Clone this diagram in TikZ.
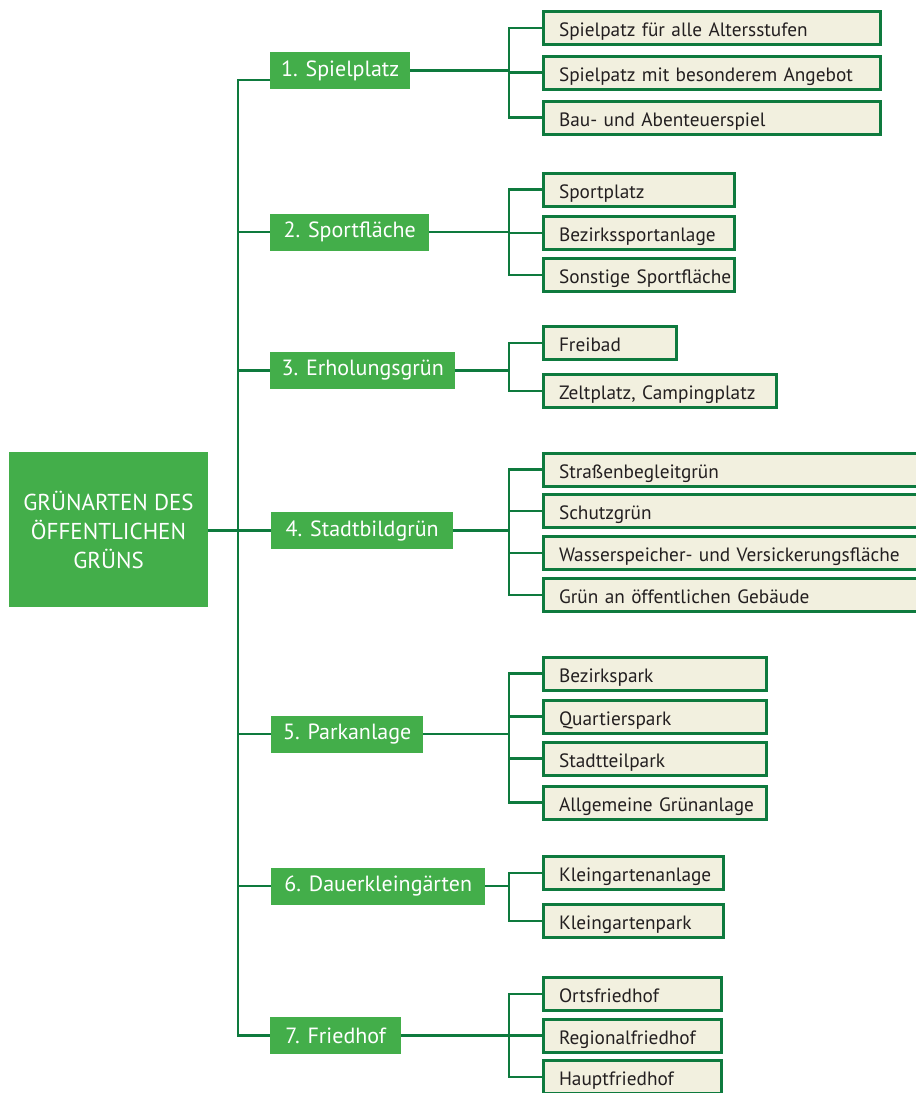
\documentclass[tikz,border=0pt]{standalone}
\usepackage{fontspec}
\setmainfont{PT Sans}
\usetikzlibrary{calc}
\definecolor{boxgreen}{HTML}{43AE4A}
\definecolor{linegreen}{HTML}{0E7A3E}
\definecolor{leafcream}{HTML}{F2F0DF}
\definecolor{leaftext}{HTML}{231F20}
\tikzset{
  link/.style={line width=2.6pt, color=linegreen},
  cat/.style={fill=boxgreen, text=white, anchor=west, inner sep=0pt, minimum height=37pt, minimum width=#1, font=\fontsize{22}{26}\selectfont},
  leaf/.style={draw=linegreen, line width=3pt, fill=leafcream, text=leaftext, anchor=west, inner xsep=0pt, inner ysep=0pt, minimum height=33pt, text width=#1, text height=17.5pt, text depth=0.5pt, align=left, font=\fontsize{19.3}{23}\selectfont, execute at begin node={\hspace*{16pt}\hbox\bgroup}, execute at end node={\egroup}},
}

\begin{document}
\begin{tikzpicture}[x=1pt,y=-1pt,line join=miter]
\useasboundingbox (0,0) rectangle (916,1093);

% root
\node[fill=boxgreen, text=white, minimum width=199pt, minimum height=155pt, inner sep=0pt, align=center, font=\fontsize{23}{29}\selectfont] (root) at (108.5,529.5) {GRÜNARTEN DES\\ÖFFENTLICHEN\\GRÜNS};

% categories
\node[cat=140pt] (s1) at (270,70.5) {1. Spielplatz};
\node[cat=159pt] (s2) at (270,232) {2. Sportfläche};
\node[cat=185pt] (s3) at (270,370.5) {3. Erholungsgrün};
\node[cat=182pt] (s4) at (271,530.5) {4. Stadtbildgrün};
\node[cat=152pt] (s5) at (271,734) {5. Parkanlage};
\node[cat=214pt] (s6) at (271,886) {6. Dauerkleingärten};
\node[cat=131pt] (s7) at (270,1035.5) {7. Friedhof};

% leaves
\node[leaf=337pt] (l11) at (541.5,28) {Spielpatz für alle Altersstufen};
\node[leaf=337pt] (l12) at (541.5,72.5) {Spielpatz mit besonderem Angebot};
\node[leaf=337pt] (l13) at (541.5,117.5) {Bau- und Abenteuerspiel};

\node[leaf=191pt] (l21) at (541.5,189.5) {Sportplatz};
\node[leaf=191pt] (l22) at (541.5,233) {Bezirkssportanlage};
\node[leaf=191pt] (l23) at (541.5,275) {Sonstige Sportfläche};

\node[leaf=133pt] (l31) at (541.5,343) {Freibad};
\node[leaf=233pt] (l32) at (541.5,391) {Zeltplatz, Campingplatz};

\node[leaf=382pt] (l41) at (541.5,469.5) {Straßenbegleitgrün};
\node[leaf=382pt] (l42) at (541.5,511) {Schutzgrün};
\node[leaf=382pt] (l43) at (541.5,553) {Wasserspeicher- und Versickerungsfläche};
\node[leaf=382pt] (l44) at (541.5,595) {Grün an öffentlichen Gebäude};

\node[leaf=223pt] (l51) at (541.5,673.5) {Bezirkspark};
\node[leaf=223pt] (l52) at (541.5,716.5) {Quartierspark};
\node[leaf=223pt] (l53) at (541.5,758.5) {Stadtteilpark};
\node[leaf=223pt] (l54) at (541.5,802.5) {Allgemeine Grünanlage};

\node[leaf=180pt] (l61) at (541.5,873) {Kleingartenanlage};
\node[leaf=180pt] (l62) at (541.5,921) {Kleingartenpark};

\node[leaf=178pt] (l71) at (541.5,994) {Ortsfriedhof};
\node[leaf=178pt] (l72) at (541.5,1035.5) {Regionalfriedhof};
\node[leaf=178pt] (l73) at (541.5,1077) {Hauptfriedhof};

% trunk
\coordinate (trunktop) at (238,80);
\coordinate (brk) at (509,0);
\draw[link] (s1.west |- trunktop) -- (trunktop) -- (trunktop |- s7.west) -- (s7.west);
\foreach \s in {s2,s3,s5,s6}
  \draw[link] (trunktop |- \s.west) -- (\s.west);
\draw[link] (root.east |- s4.west) -- (s4.west);

% brackets
\foreach \g/\n in {1/3,2/3,3/2,4/4,5/4,6/2,7/3}{
  \draw[link] (s\g.east) -- (s\g.east -| brk);
  \draw[link] (l\g1.west) -- (l\g1.west -| brk) -- (l\g\n.west -| brk) -- (l\g\n.west);
  \foreach \k in {2,...,\n}
    \draw[link] (l\g\k.west -| brk) -- (l\g\k.west);
}
\end{tikzpicture}
\end{document}
